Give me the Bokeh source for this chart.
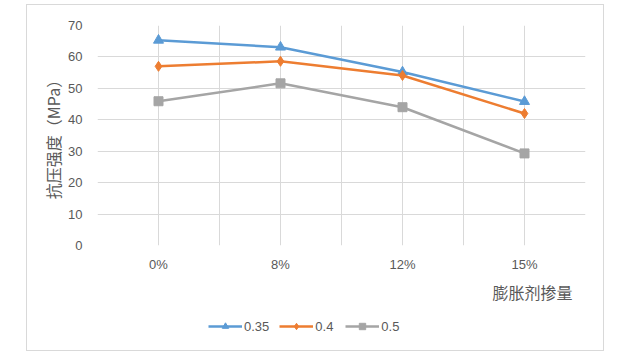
from bokeh.plotting import figure
from bokeh.layouts import column
from bokeh.models import FixedTicker, Legend, LegendItem, LinearAxis
from bokeh.embed import file_html
from bokeh.resources import INLINE

categories = ["0%", "8%", "12%", "15%"]
s035 = [65.3, 63.1, 55.2, 45.8]
s04 = [57.0, 58.6, 54.1, 42.0]
s05 = [45.9, 51.6, 44.0, 29.3]
series_names = ["0.35", "0.4", "0.5"]
y_ticks = [0, 10, 20, 30, 40, 50, 60, 70]
x_title = "膨胀剂掺量"
y_title = "抗压强度（MPa）"

xs = [i + 0.5 for i in range(len(categories))]

grey = "#595959"
font = "Noto Sans CJK SC"
numfont = "Liberation Sans"
colors = ["#5B9BD5", "#ED7D31", "#A5A5A5"]
data = [s035, s04, s05]
markers = ["triangle", "diamond", "square"]
sizes = [10, 10, 9]

p = figure(width=576, height=301, x_range=(0, len(categories)), y_range=(0, 70),
           output_backend="svg", toolbar_location=None,
           min_border_left=70, min_border_right=18, min_border_top=20, min_border_bottom=56)
p.outline_line_color = None
p.background_fill_color = "white"
p.border_fill_color = "white"

xaxis = p.xaxis[0]
yaxis = p.yaxis[0]
xaxis.ticker = FixedTicker(ticks=xs)
xaxis.major_label_overrides = {x: c for x, c in zip(xs, categories)}
p.xgrid.ticker = FixedTicker(ticks=[i * 0.5 for i in range(2 * len(categories) + 1)])
yaxis.ticker = FixedTicker(ticks=y_ticks)
p.ygrid.ticker = FixedTicker(ticks=y_ticks)
for g in (p.xgrid, p.ygrid):
    g.grid_line_color = "#d9d9d9"
    g.grid_line_width = 1

for ax in (xaxis, yaxis):
    ax.axis_line_color = None
    ax.major_tick_line_color = None
    ax.minor_tick_line_color = None
    ax.major_tick_out = 0
    ax.major_tick_in = 0
    ax.minor_tick_out = 0
    ax.major_label_text_color = grey
    ax.major_label_text_font = numfont
    ax.major_label_text_font_size = "13px"
xaxis.major_label_standoff = 11
yaxis.major_label_standoff = 15
yaxis.axis_label = y_title
yaxis.axis_label_text_font = font
yaxis.axis_label_text_font_style = "normal"
yaxis.axis_label_text_font_size = "16px"
yaxis.axis_label_text_color = grey
yaxis.axis_label_standoff = 0

# x-axis title placed to the right, as in the reference
xt_pos = len(categories) - 0.434
ax2 = LinearAxis(ticker=FixedTicker(ticks=[xt_pos]),
                 major_label_overrides={xt_pos: x_title},
                 axis_line_color=None, major_tick_line_color=None, minor_tick_line_color=None,
                 major_tick_out=0, major_tick_in=0, minor_tick_out=0,
                 major_label_text_color=grey, major_label_text_font=font,
                 major_label_text_font_size="16px", major_label_standoff=5)
p.add_layout(ax2, "below")

for ys, c, m, sz in zip(data, colors, markers, sizes):
    p.line(xs, ys, line_color=c, line_width=2.5)
    p.scatter(xs, ys, marker=m, size=sz, fill_color=c, line_color=c)

# legend strip (its own small figure; the sample glyphs lie outside its view)
pl = figure(width=576, height=44, x_range=(100, 101), y_range=(100, 101),
            x_axis_type=None, y_axis_type=None, output_backend="svg",
            toolbar_location=None, min_border=0)
pl.outline_line_color = None
pl.grid.visible = False
pl.background_fill_color = "white"
pl.border_fill_color = "white"
items = []
for name, ys, c, m, sz in zip(series_names, data, colors, markers, sizes):
    l = pl.line(xs, ys, line_color=c, line_width=2.5)
    s = pl.scatter(xs, ys, marker=m, size=sz, fill_color=c, line_color=c)
    items.append(LegendItem(label=name, renderers=[l, s]))
leg = Legend(items=items, orientation="horizontal", location=(111, 16),
             label_text_font=numfont, label_text_font_size="13px",
             label_text_color=grey, border_line_color=None, background_fill_alpha=0,
             glyph_width=34, glyph_height=16, spacing=10, label_standoff=2,
             padding=2, margin=0)
pl.add_layout(leg, "center")

layout = column(p, pl, spacing=0, margin=(5, 0, 0, 27))
layout.styles = {"outline": "1px solid #d9d9d9"}

open("out.html", "w").write(file_html(layout, INLINE))
